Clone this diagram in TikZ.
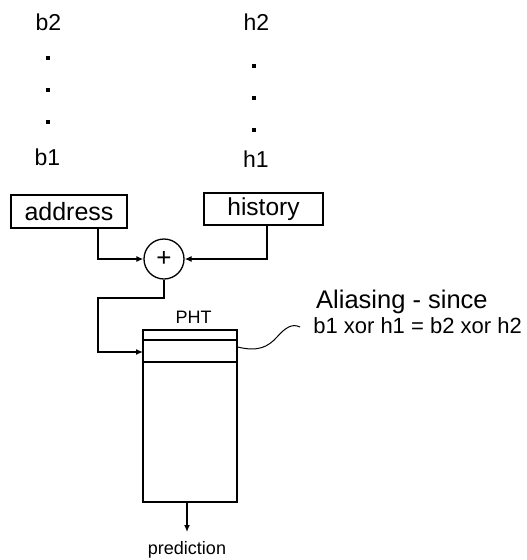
\documentclass[tikz,border=0pt]{standalone}
\usepackage{fontspec}
\setmainfont{Liberation Sans}
\usetikzlibrary{arrows.meta}
\begin{document}
\begin{tikzpicture}[x=1pt,y=-1pt,
  wire/.style={line width=1.3pt},
  arr/.style={wire,-{Latex[length=7pt,width=6pt]}},
  box/.style={draw,line width=1.3pt,inner sep=0pt},
  lbl/.style={inner sep=0pt,font=\fontsize{23}{27}\selectfont},
  dotmark/.style={rectangle,fill,inner sep=0pt,minimum size=3.5pt}
]
\useasboundingbox (0,0) rectangle (527,560);
% top labels
\node[lbl,anchor=base] (b2) at (48.5,30) {b2};
\node[dotmark] (bd1) at (48,58) {};
\node[dotmark] (bd2) at (48,90) {};
\node[dotmark] (bd3) at (48,122) {};
\node[lbl,anchor=base] (b1) at (47.5,165) {b1};
\node[lbl,anchor=base] (h2) at (256.5,30) {h2};
\node[dotmark] (hd1) at (254,66) {};
\node[dotmark] (hd2) at (254,98) {};
\node[dotmark] (hd3) at (254,130) {};
\node[lbl,anchor=base] (h1) at (256,167) {h1};
% boxes
\node[box,minimum width=116pt,minimum height=33pt,font=\fontsize{25}{29}\selectfont] (addr) at (69,211.5) {address};
\node[box,minimum width=119pt,minimum height=32pt,font=\fontsize{24.5}{29}\selectfont] (hist) at (263.5,209) {history};
\node[draw,circle,line width=1.3pt,minimum size=40pt,inner sep=0pt,font=\fontsize{26}{30}\selectfont] (xor) at (164,259) {+};
\node[box,minimum width=94pt,minimum height=172pt] (pht) at (190,416) {};
\node[inner sep=0pt,anchor=base,font=\fontsize{18}{21}\selectfont] (phtl) at (193.5,323) {PHT};
\draw[wire] (pht.west |- 0,340) -- (pht.east |- 0,340);
\draw[wire] (pht.west |- 0,362) -- (pht.east |- 0,362);
% connectors
\draw[arr] ([xshift=29pt]addr.south) |- (xor.west);
\draw[arr] ([xshift=3.5pt]hist.south) |- (xor.east);
\coordinate (bend) at (98,298);
\coordinate (entry) at (143,352);
\draw[arr] (xor.south) |- (bend) |- (entry);
\node[inner sep=0pt,anchor=base,font=\fontsize{18}{21}\selectfont] (pred) at (187,554) {prediction};
\draw[arr] ([xshift=-3pt]pht.south) -- (187,532);
% note
\node[inner sep=0pt,anchor=base west,font=\fontsize{25.5}{30}\selectfont] (alias) at (316,308) {Aliasing - since};
\node[inner sep=0pt,anchor=base east,font=\fontsize{22}{26}\selectfont] (eq) at (522,333) {b1 xor h1 = b2 xor h2};
\coordinate (sq) at (300,327);
\draw[line width=1pt] (pht.east |- 0,347) .. controls (258,352) and (268,347) .. (277,337) .. controls (285,328) and (292,323) .. (sq);
\end{tikzpicture}
\end{document}
